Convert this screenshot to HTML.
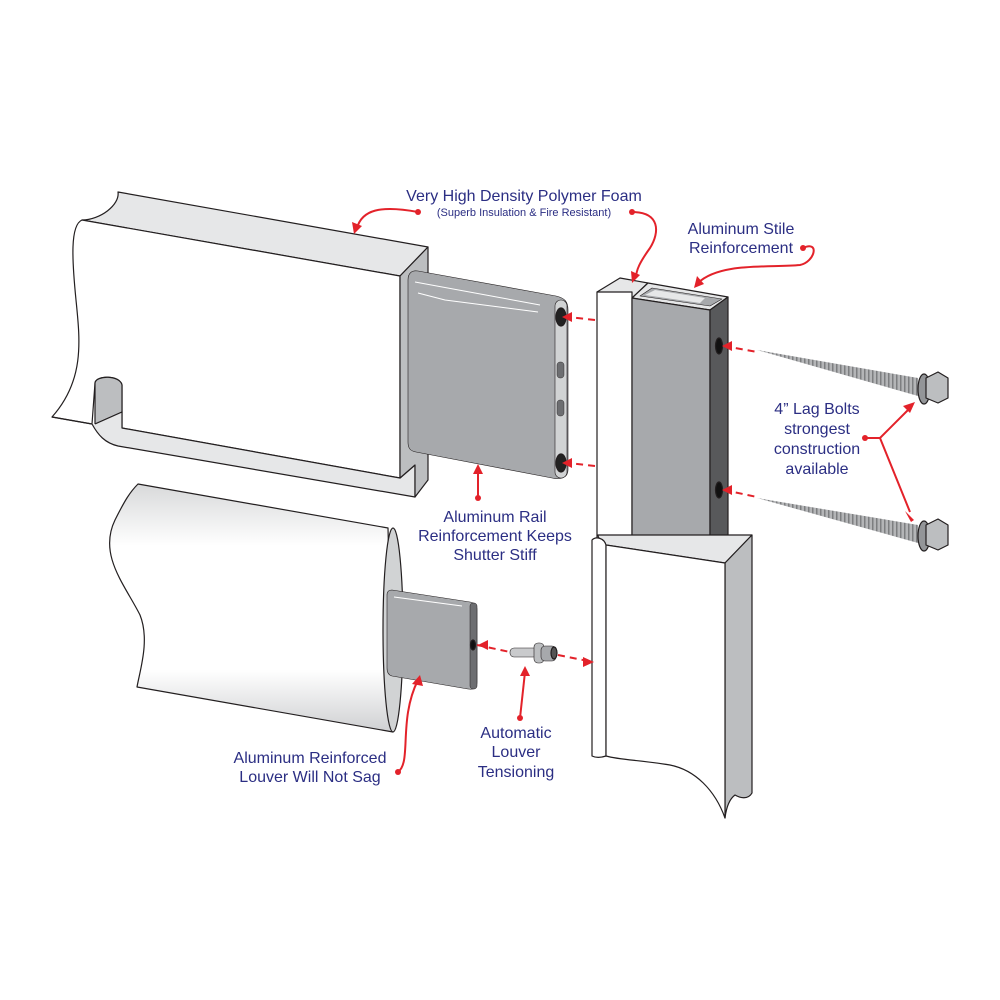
<!DOCTYPE html>
<html><head><meta charset="utf-8"><style>
html,body{margin:0;padding:0;background:#fff}
svg{display:block}
text{font-family:"Liberation Sans",sans-serif;fill:#2b2e83}
</style></head><body>
<svg width="1000" height="1000" viewBox="0 0 1000 1000" xmlns="http://www.w3.org/2000/svg">
<defs>
<linearGradient id="cyl" x1="0" y1="0" x2="0" y2="1">
<stop offset="0" stop-color="#d8d9da"/><stop offset="0.25" stop-color="#ffffff"/><stop offset="0.75" stop-color="#ffffff"/><stop offset="1" stop-color="#cfd0d2"/>
</linearGradient>
<linearGradient id="bolt" x1="0" y1="0" x2="0" y2="1">
<stop offset="0" stop-color="#c8c8c8"/><stop offset="1" stop-color="#8c8c8c"/>
</linearGradient>
<pattern id="thr" width="4" height="10" patternUnits="userSpaceOnUse">
<rect width="4" height="10" fill="#b4b5b7"/><rect width="1.5" height="10" fill="#7d7e80"/>
</pattern>
</defs>
<g stroke="#231f20" stroke-width="1.2" stroke-linejoin="round">
<!-- top rail -->
<path d="M118,192 L428,247 L400,276 L82,220 C100,220 120,205 118,192Z" fill="#e6e7e8"/>
<path d="M82,220 C70,225 72,260 76,300 C80,340 85,380 52,417 L92,424 L95,383 C96,375 120,375 122,385 L122,428 L400,478 L400,276 Z" fill="#fff"/>
<path d="M95,383 L95,424 L122,412 L122,385 C120,375 96,375 95,383Z" fill="#bcbec0"/>
<path d="M52,417 L92,424 C98,435 105,443 118,446 L415,497 L415,465 L400,478 L122,428 L122,412 L95,424" fill="#e6e7e8"/>
<path d="M400,276 L428,247 L428,480 L415,497 L415,465 L400,478 Z" fill="#bcbec0"/>
<!-- rail reinforcement -->
<path d="M418,271 L556,296 C565,298 568,302 568,310 L568,470 C568,478 560,480 552,478 L416,452 C410,451 408,448 408,442 L408,280 C408,273 412,270 418,271Z" fill="#a7a9ac" stroke-width="0.6"/>
<path d="M415,282 L540,305 M418,293 L445,300 L538,312" stroke="#fff" stroke-width="1" fill="none"/>
<rect x="555" y="300" width="12" height="178" rx="6" fill="#d1d3d4" stroke-width="0.6"/>
<ellipse cx="561" cy="317" rx="5" ry="9" fill="#222"/>
<ellipse cx="561" cy="463" rx="5" ry="9" fill="#222"/>
<rect x="557" y="362" width="7" height="16" rx="3" fill="#6d6e71" stroke-width="0.4"/>
<rect x="557" y="400" width="7" height="16" rx="3" fill="#6d6e71" stroke-width="0.4"/>
<!-- louver cylinder -->
<path d="M138,484 L388,528 L393,732 L137,687 C140,670 150,640 140,615 C125,585 98,555 115,520 C125,500 130,492 138,484Z" fill="url(#cyl)"/>
<ellipse cx="393" cy="630" rx="10" ry="102" fill="#d1d3d4"/>
<path d="M392,590 L470,602 C476,603 477,606 477,610 L477,682 C477,688 474,690 468,689 L392,676 C388,675 387,672 387,668 L387,595 C387,591 389,590 392,590Z" fill="#a7a9ac" stroke-width="0.6"/>
<path d="M394,597 L462,606" stroke="#fff" stroke-width="1" fill="none"/>
<rect x="470" y="603" width="7" height="86" rx="3" fill="#6d6e71" stroke-width="0.5"/>
<ellipse cx="473" cy="645" rx="2.5" ry="5" fill="#111"/>
<!-- tension pin -->
<rect x="510" y="648" width="28" height="9" rx="4" fill="#c9cacc" stroke-width="0.6"/>
<rect x="534" y="643" width="10" height="20" rx="4" fill="#bcbec0" stroke-width="0.6"/>
<rect x="541" y="646" width="15" height="15" rx="4" fill="#a7a9ac" stroke-width="0.6"/>
<ellipse cx="554" cy="653" rx="3" ry="6" fill="#555"/>
<!-- upper stile -->
<path d="M597,292 L620,278 L648,283 L632,298 Z" fill="#e6e7e8"/>
<path d="M632,298 L648,283 L728,297 L710,310 Z" fill="#e6e7e8"/>
<path d="M640,296 L652,288 L722,299 L710,306 Z" fill="#a7a9ac" stroke-width="0.6"/>
<path d="M645,295 L655,290 L705,298 L700,303Z" fill="#e6e7e8" stroke="none"/>
<rect x="597" y="292" width="35" height="255" fill="#fff"/>
<path d="M632,298 L710,310 L710,553 L632,540 Z" fill="#a7a9ac"/>
<path d="M710,310 L728,297 L728,540 L710,553 Z" fill="#58595b"/>
<ellipse cx="719" cy="346" rx="3.5" ry="8" fill="#111"/>
<ellipse cx="719" cy="490" rx="3.5" ry="8" fill="#111"/>
<!-- lower stile -->
<path d="M598,535 L752,535 L725,563 L606,545 C603,540 598,540 598,535Z" fill="#e6e7e8"/>
<path d="M592,540 C596,536 604,538 606,545 L606,756 C600,758 596,758 592,756 Z" fill="#fff"/>
<path d="M725,563 L752,535 L752,793 C748,800 740,798 735,795 C728,800 726,810 725,818 Z" fill="#bcbec0"/>
<path d="M606,545 L725,563 L725,818 C715,790 695,770 670,765 C640,760 620,760 606,756 Z" fill="#fff"/>
<!-- bolts -->
<path d="M757,350 L918,378 L918,396 Z" fill="url(#thr)" stroke="none"/>
<path d="M757,498 L918,525 L918,543 Z" fill="url(#thr)" stroke="none"/>
<ellipse cx="924" cy="389" rx="6" ry="15" fill="#939598"/>
<ellipse cx="924" cy="536" rx="6" ry="15" fill="#939598"/>
<path d="M926,378 L938,372 L948,378 L948,398 L938,403 L926,398 Z" fill="#bcbec0"/>
<path d="M926,525 L938,519 L948,525 L948,545 L938,550 L926,545 Z" fill="#bcbec0"/>
</g>
<!-- red connectors -->
<g stroke="#e3222a" stroke-width="2" fill="none">
<g stroke-dasharray="7,5">
<line x1="595" y1="320" x2="568" y2="317"/>
<line x1="595" y1="466" x2="568" y2="463"/>
<line x1="724" y1="346" x2="757" y2="352"/>
<line x1="724" y1="490" x2="757" y2="497"/>
<line x1="477" y1="645" x2="510" y2="652"/>
<line x1="558" y1="655" x2="588" y2="661"/>
</g>
<path d="M418,212 C380,205 362,210 357,228"/>
<path d="M632,212 C660,212 660,232 650,248 C640,262 636,270 636,278"/>
<path d="M803,248 C820,240 815,262 800,265 C770,268 720,262 698,283"/>
<path d="M865,438 L880,438 L910,408 M880,438 L910,512"/>
<path d="M478,498 L478,470"/>
<path d="M520,718 L525,672"/>
<path d="M398,772 C412,762 398,720 418,680"/>
</g>
<g fill="#e3222a">
<circle cx="418" cy="212" r="3"/><circle cx="632" cy="212" r="3"/><circle cx="803" cy="248" r="3"/>
<circle cx="865" cy="438" r="3"/><circle cx="478" cy="498" r="3"/><circle cx="520" cy="718" r="3"/><circle cx="398" cy="772" r="3"/>
<path d="M354,234 L352,222 L362,226Z"/>
<path d="M632,283 L631,271 L640,275Z"/>
<path d="M694,288 L697,276 L704,284Z"/>
<path d="M915,402 L903,406 L910,413Z"/>
<path d="M914,520 L905,511 L911,522Z"/>
<path d="M562,317 L572,312 L572,322Z"/>
<path d="M562,463 L572,458 L572,468Z"/>
<path d="M722,346 L732,341 L732,351Z"/>
<path d="M722,490 L732,485 L732,495Z"/>
<path d="M478,645 L488,640 L488,650Z"/>
<path d="M478,464 L473,474 L483,474Z"/>
<path d="M525,666 L520,676 L530,676Z"/>
<path d="M420,675 L412,684 L423,686Z"/>
<path d="M594,662 L583,657 L583,667Z"/>
</g>
<!-- labels -->
<g font-size="16">
<text x="524" y="201" text-anchor="middle">Very High Density Polymer Foam</text>
<text x="524" y="216" text-anchor="middle" font-size="11">(Superb Insulation &amp; Fire Resistant)</text>
<text x="741" y="234" text-anchor="middle">Aluminum Stile</text>
<text x="741" y="253" text-anchor="middle">Reinforcement</text>
<text x="817" y="414" text-anchor="middle">4” Lag Bolts</text>
<text x="817" y="434" text-anchor="middle">strongest</text>
<text x="817" y="454" text-anchor="middle">construction</text>
<text x="817" y="474" text-anchor="middle">available</text>
<text x="495" y="522" text-anchor="middle">Aluminum Rail</text>
<text x="495" y="541" text-anchor="middle">Reinforcement Keeps</text>
<text x="495" y="560" text-anchor="middle">Shutter Stiff</text>
<text x="516" y="738" text-anchor="middle">Automatic</text>
<text x="516" y="757" text-anchor="middle">Louver</text>
<text x="516" y="777" text-anchor="middle">Tensioning</text>
<text x="310" y="763" text-anchor="middle">Aluminum Reinforced</text>
<text x="310" y="782" text-anchor="middle">Louver Will Not Sag</text>
</g>
</svg>
</body></html>
